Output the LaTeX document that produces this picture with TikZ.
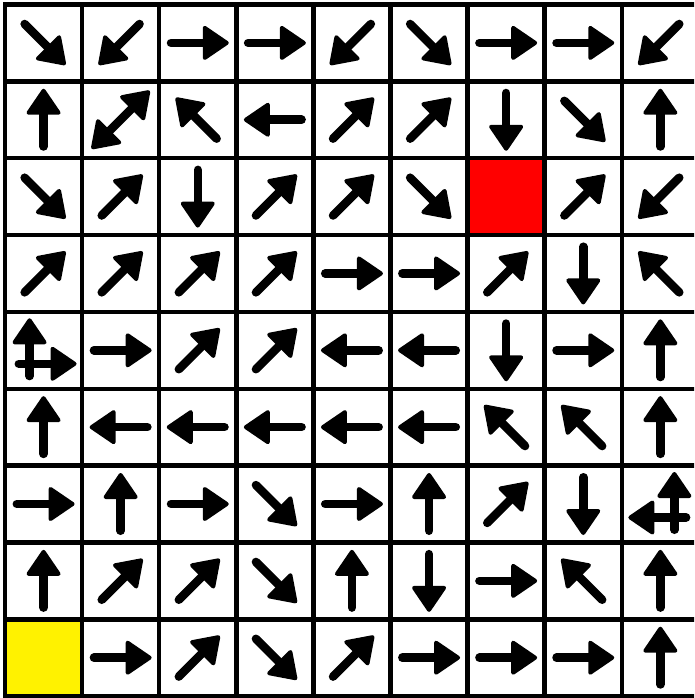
\documentclass[tikz,border=0pt]{standalone}
\usetikzlibrary{calc}
\tikzset{
  shaft/.style={line width=8.5pt, line cap=round, draw=black},
  headtip/.style={line width=4pt, line join=round, fill=black, draw=black},
  gridline/.style={line width=4.5pt, line cap=rect, draw=black},
}
% single arrow: col, row, angle, dx, dy (offsets in px)
\newcommand{\arrowcellx}[5]{%
  \begin{scope}[shift={({43.55+77.1*#1+#4},{42.9+76.85*#2+#5})}, rotate=#3]
    \draw[shaft] (-26.75,0) -- (12,0);
    \filldraw[headtip] (29,0) -- (7,15) -- (7,-15) -- cycle;
  \end{scope}}
\newcommand{\arrowcell}[3]{\arrowcellx{#1}{#2}{#3}{0}{0}}
\newcommand{\doublecell}[3]{%
  \begin{scope}[shift={({43.55+77.1*#1},{42.9+76.85*#2})}, rotate=#3]
    \draw[shaft] (-22,0) -- (22,0);
    \filldraw[headtip] (39,0) -- (17,15) -- (17,-15) -- cycle;
    \filldraw[headtip] (-39,0) -- (-17,15) -- (-17,-15) -- cycle;
  \end{scope}}
\newcommand{\cellfill}[3]{%
  \fill[#3] ({5+77.1*#1},{4.5+76.85*#2}) rectangle ({5+77.1*(#1+1)},{4.5+76.85*(#2+1)});}
\begin{document}
\begin{tikzpicture}[x=1pt,y=-1pt]
\useasboundingbox (0,0) rectangle (694,698);
\clip (0,0) rectangle (694,698);
\fill[white] (0,0) rectangle (694,698);
\cellfill{6}{2}{red}
\cellfill{0}{8}{yellow}
\foreach \i in {0,...,9} \draw[gridline] ({5+77.1*\i},4.5) -- ({5+77.1*\i},696.15);
\foreach \j in {0,...,9} \draw[gridline] (5,{4.5+76.85*\j}) -- (698.9,{4.5+76.85*\j});
% row 0
\foreach \c/\a in {0/315,1/225,2/0,3/0,4/225,5/315,6/0,7/0,8/225} \arrowcell{\c}{0}{\a};
% row 1
\foreach \c/\a in {0/90,2/135,3/180,4/45,5/45,6/270,7/315,8/90} \arrowcell{\c}{1}{\a};
\doublecell{1}{1}{45}
% row 2
\foreach \c/\a in {0/315,1/45,2/270,3/45,4/45,5/315,7/45,8/225} \arrowcell{\c}{2}{\a};
% row 3
\foreach \c/\a in {0/45,1/45,2/45,3/45,4/0,5/0,6/45,7/270,8/135} \arrowcell{\c}{3}{\a};
% row 4
\foreach \c/\a in {1/0,2/45,3/45,4/180,5/180,6/270,7/0,8/90} \arrowcell{\c}{4}{\a};
\arrowcellx{0}{4}{90}{-14}{-1}
\arrowcellx{0}{4}{0}{2}{13.5}
% row 5
\foreach \c/\a in {0/90,1/180,2/180,3/180,4/180,5/180,6/135,7/135,8/90} \arrowcell{\c}{5}{\a};
% row 6
\foreach \c/\a in {0/0,1/90,2/0,3/315,4/0,5/90,6/45,7/270} \arrowcell{\c}{6}{\a};
\arrowcellx{8}{6}{90}{14}{-1}
\arrowcellx{8}{6}{180}{-1}{13.5}
% row 7
\foreach \c/\a in {0/90,1/45,2/45,3/315,4/90,5/270,6/0,7/135,8/90} \arrowcell{\c}{7}{\a};
% row 8
\foreach \c/\a in {1/0,2/45,3/315,4/45,5/0,6/0,7/0,8/90} \arrowcell{\c}{8}{\a};
\end{tikzpicture}
\end{document}
